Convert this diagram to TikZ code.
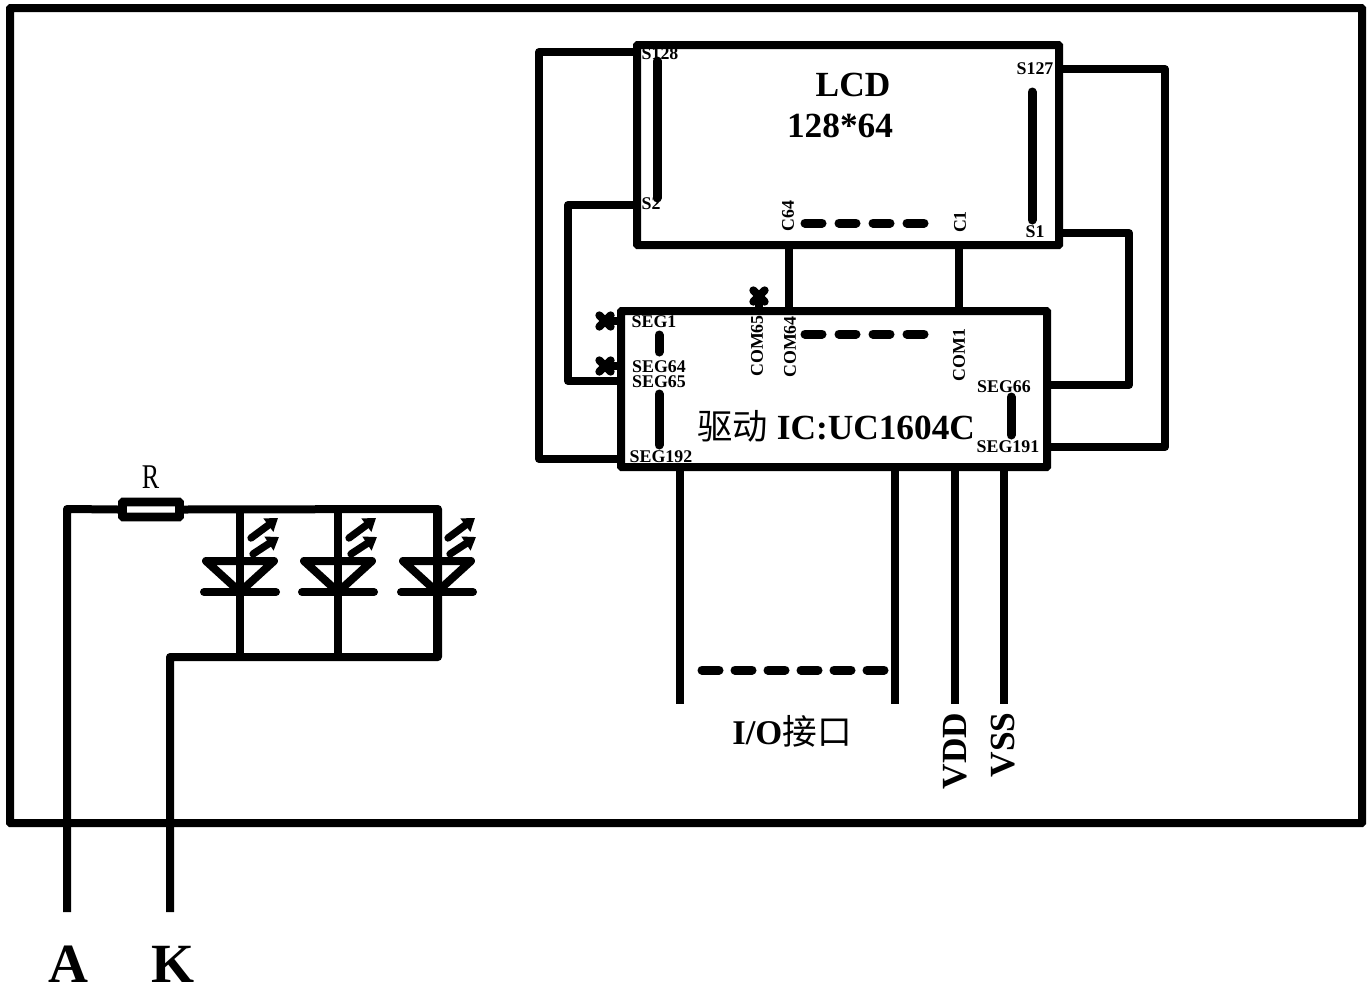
\documentclass[tikz,border=0pt]{standalone}
\usepackage{fontspec}
\setmainfont{Liberation Serif}
\newfontfamily\cjkf{Noto Sans CJK SC}
\usetikzlibrary{arrows.meta,shapes.misc}
\tikzset{
  wire/.style={line width=6pt,line join=round,line cap=butt},
  lead/.style={line width=6pt,line join=round,line cap=round},
  box/.style={draw,line width=6pt,rounded corners=0.5pt,inner sep=0pt,outer sep=0pt},
  hdots/.style={line width=6.75pt,line cap=round,dash pattern=on 12.75pt off 12.75pt},
  vdots/.style={line width=6.75pt,line cap=round},
  nc/.style={draw,cross out,line width=6pt,line cap=round,minimum size=8.5pt,inner sep=0pt,outer sep=0pt},
  pin/.style={font=\bfseries\fontsize{13.4}{13.4}\selectfont,inner sep=0pt},
  big/.style={font=\bfseries\fontsize{26.5}{28}\selectfont,inner sep=0pt},
  huge/.style={font=\bfseries\fontsize{41.5}{42}\selectfont,inner sep=0pt,anchor=base,text height=20pt,text depth=0pt},
  ray/.style={line width=5.5pt,line cap=round,-{Triangle[length=9pt,width=12pt]}},
}
\begin{document}
\begin{tikzpicture}[x=0.75pt,y=-0.75pt]
\useasboundingbox (0,0) rectangle (1372,986);
% frame
\node[box,minimum width=1014pt,minimum height=611.25pt] (frame) at (686,415.5) {};
% boxes
\node[box,minimum width=316.5pt,minimum height=150pt] (lcd) at (848,145) {};
\node[box,minimum width=319.5pt,minimum height=117pt] (ic) at (834,389) {};
% pins
\coordinate (ps128) at (637,52);
\coordinate (ps2) at (637,205);
\coordinate (ps127) at (1059,69);
\coordinate (ps1) at (1059,233);
\coordinate (pc64) at (789,245);
\coordinate (pc1) at (959,245);
\coordinate (pcom64) at (789,311);
\coordinate (pcom1) at (959,311);
\coordinate (pseg192) at (621,459);
\coordinate (pseg65) at (621,381);
\coordinate (pseg66) at (1047,385);
\coordinate (pseg191) at (1047,447);
\coordinate (pio1) at (680,467);
\coordinate (pio2) at (895,467);
\coordinate (pvdd) at (955,467);
\coordinate (pvss) at (1004,467);
\coordinate (eio1) at (680,704);
\coordinate (eio2) at (895,704);
\coordinate (evdd) at (955,704);
\coordinate (evss) at (1004,704);
% connectors
\draw[wire] (ps128) -- (539,52) -- (539,459) -- (pseg192);
\draw[wire] (ps2) -- (568,205) -- (568,381) -- (pseg65);
\draw[wire] (ps127) -- (1165,69) -- (1165,447) -- (pseg191);
\draw[wire] (ps1) -- (1129,233) -- (1129,385) -- (pseg66);
\draw[wire] (pc64) -- (pcom64);
\draw[wire] (pc1) -- (pcom1);
\draw[wire] (pio1) -- (eio1);
\draw[wire] (pio2) -- (eio2);
\draw[wire] (pvdd) -- (evdd);
\draw[wire] (pvss) -- (evss);
% not-connected pins
\node[nc] (x1) at (605,321) {};
\node[nc] (x2) at (605,366) {};
\node[nc] (x3) at (759,296) {};
\coordinate (px1) at (621,321);
\coordinate (px2) at (621,366);
\coordinate (px3) at (759,311);
\draw[wire] (x1.center) -- (px1);
\draw[wire] (x2.center) -- (px2);
\draw[wire] (x3.center) -- (px3);
% ellipses
\draw[hdots] (805,223) -- (924,223);
\draw[hdots] (805,334) -- (924,334);
\draw[line width=6.75pt,line cap=round,dash pattern=on 12.75pt off 12pt] (702,670) -- (884,670);
\draw[vdots] (657,61) -- (657,198);
\draw[vdots] (1032,92) -- (1032,220);
\draw[vdots] (659,335) -- (659,352);
\draw[vdots] (659,394) -- (659,445);
\draw[vdots] (1011,397) -- (1011,435);
% LCD / IC text
\node[big] (tlcd) at (853,85) {LCD};
\node[big] (tres) at (840,126) {128*64};
\node[inner sep=0pt,anchor=west,font=\fontsize{26.5}{28}\selectfont] (tic) at (697,426) {{\cjkf 驱动} \textbf{IC:UC1604C}};
\node[pin] (l1) at (660,54) {S128};
\node[pin] (l2) at (651,204) {S2};
\node[pin] (l3) at (1035,69) {S127};
\node[pin] (l4) at (1035,232) {S1};
\node[pin,rotate=90] (l5) at (788,216) {C64};
\node[pin,rotate=90] (l6) at (960,222) {C1};
\node[pin] (l7) at (654,322) {SEG1};
\node[pin] (l8) at (659,367) {SEG64};
\node[pin] (l9) at (659,382) {SEG65};
\node[pin] (l10) at (661,457) {SEG192};
\node[pin] (l11) at (1004,387) {SEG66};
\node[pin] (l12) at (1008,447) {SEG191};
\node[pin,rotate=90] (l13) at (757,346) {COM65};
\node[pin,rotate=90] (l14) at (790,347) {COM64};
\node[pin,rotate=90] (l15) at (959,355) {COM1};
\node[inner sep=0pt,font=\fontsize{26}{28}\selectfont] (tio) at (792,731) {\textbf{I/O}{\cjkf 接口}};
\node[big,rotate=90] (tvdd) at (955,751) {VDD};
\node[big,rotate=90] (tvss) at (1003,745) {VSS};
% backlight
\coordinate (ea) at (67,912);
\coordinate (ek) at (170,912);
\node[draw,line width=6.5pt,rounded corners=0.5pt,fill=white,inner sep=0pt,minimum width=42.75pt,minimum height=11.25pt] (res) at (151,509.5) {};
\node[inner sep=0pt,font=\fontsize{26}{26}\selectfont,xscale=0.75] (tr) at (150.5,477) {R};
\coordinate (nr) at (438,509);
\coordinate (nk) at (438,657);
\draw[wire] (ea) -- (67,509) -- (res.west);
\draw[wire] (res.east) -- (nr) -- (nk) -- (170,657) -- (ek);
\foreach \i/\px in {1/240,2/338,3/437}{
  \coordinate (t\i) at (\px,509);
  \coordinate (b\i) at (\px,657);
  \coordinate (a\i) at (\px,592);
  \draw[wire] (t\i) -- (b\i);
  \draw[lead] (\px-34,561) -- (\px+34,561) -- (a\i) -- cycle;
  \draw[lead] (\px-36,592) -- (\px+36,592);
  \draw[ray] (\px+11,538) -- (\px+38,518);
  \draw[ray] (\px+13,554) -- (\px+39,537);
}
\node[huge] (ta) at (68,982) {A};
\node[huge] (tk) at (173,982) {K};
\end{tikzpicture}
\end{document}
